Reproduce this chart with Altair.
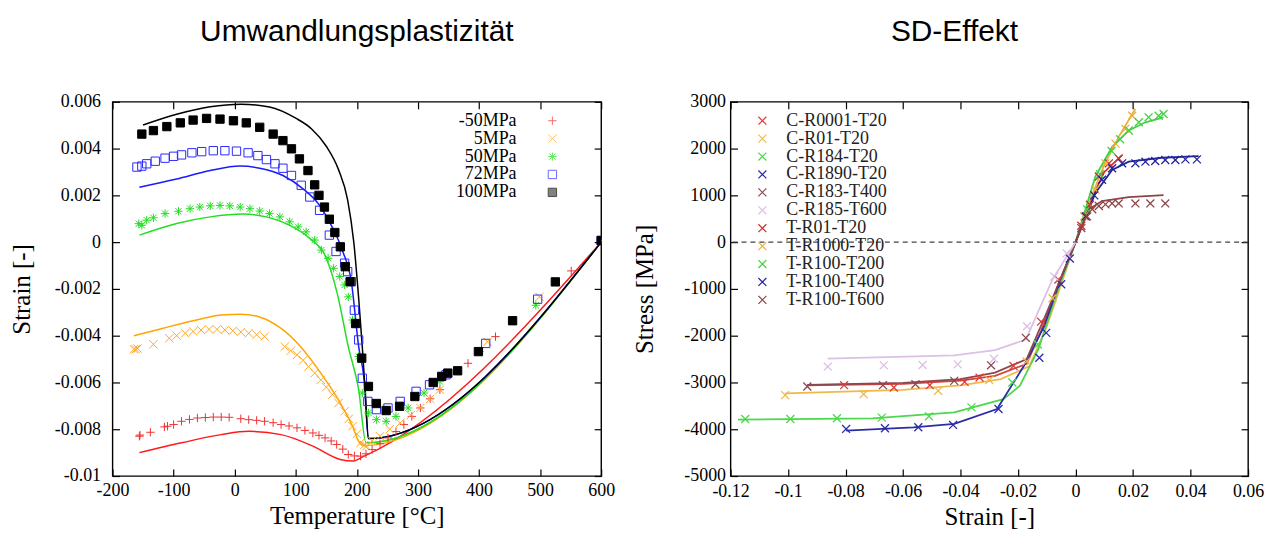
import altair as alt
import pandas as pd

# ---------------- Left panel data: Umwandlungsplastizität ----------------
left_series = ["-50MPa", "5MPa", "50MPa", "72MPa", "100MPa"]
left_colors = ["#f03030", "#ffa726", "#22dd22", "#2a2aff", "#000000"]
left_line_colors = ["#ff1a1a", "#ffa500", "#22dd22", "#1a1aff", "#000000"]

m50_T = [-156, -155, -138, -115, -110, -100, -87, -74, -61, -48, -35, -22, -9, 10, 23, 36, 49, 63, 76, 89,
         102, 115, 128, 138, 148, 158, 167, 177, 186, 196, 206, 215, 225, 238, 251, 264, 277, 290, 304, 320,
         336, 382, 427, 551, 600]
m50_S = [-0.0083, -0.00825, -0.00813, -0.0079, -0.00787, -0.0078, -0.00766, -0.00758, -0.00752, -0.0075,
         -0.00748, -0.00748, -0.00749, -0.00755, -0.00759, -0.00762, -0.00766, -0.00772, -0.0078, -0.00786,
         -0.00794, -0.00805, -0.00816, -0.00826, -0.00837, -0.0085, -0.00865, -0.00885, -0.00908, -0.00914,
         -0.00915, -0.00905, -0.00887, -0.00862, -0.00837, -0.0081, -0.0078, -0.00745, -0.00709, -0.0067,
         -0.00631, -0.00518, -0.00404, -0.00123, 0.00007]
m50_line_T = [-156, -87, -22, 23, 76, 128, 173, 193, 212, 600]
m50_line_S = [-0.009, -0.00858, -0.00823, -0.00809, -0.00823, -0.00872, -0.00929, -0.00936, -0.00915, 0.0]

p5_T = [-165, -162, -159, -133, -107, -95, -81, -68, -55, -42, -29, -16, -3, 10, 23, 36, 49, 82, 92, 102,
        112, 121, 131, 141, 150, 160, 170, 180, 187, 193, 200, 206, 212, 216, 225, 238, 254, 271, 288, 304,
        320, 336, 414, 499, 600]
p5_S = [-0.00458, -0.00458, -0.00455, -0.00437, -0.00411, -0.004, -0.0039, -0.00382, -0.00376, -0.00373,
        -0.00373, -0.00375, -0.00379, -0.00384, -0.0039, -0.00396, -0.00404, -0.00447, -0.00464, -0.00482,
        -0.00505, -0.00532, -0.0056, -0.00589, -0.0062, -0.00652, -0.00688, -0.00723, -0.00755, -0.00787,
        -0.0082, -0.00858, -0.00868, -0.00872, -0.0085, -0.0083, -0.008, -0.00773, -0.0074, -0.00709,
        -0.0067, -0.00631, -0.00426, -0.00234, 0.00007]
p5_line_T = [-165, -120, -87, -50, -22, 10, 43, 76, 108, 141, 173, 193, 205, 210, 600]
p5_line_S = [-0.004, -0.0037, -0.00348, -0.00325, -0.00312, -0.00308, -0.00322, -0.00369, -0.00447,
             -0.0056, -0.00688, -0.00787, -0.0086, -0.0087, 0.0]

p50_T = [-157, -152, -144, -133, -114, -92, -73, -57, -40, -24, -8, 9, 25, 41, 57, 74, 90, 104, 117, 131,
         142, 153, 162, 172, 180, 186, 193, 203, 209, 219, 232, 248, 264, 284, 310, 336, 401, 493, 600]
p50_S = [0.00079, 0.00072, 0.00094, 0.00104, 0.00122, 0.00132, 0.00143, 0.0015, 0.00155, 0.00157, 0.00155,
         0.0015, 0.00143, 0.00133, 0.00122, 0.00108, 0.00087, 0.00065, 0.00044, 0.00009, -0.00034, -0.00069,
         -0.00112, -0.00147, -0.00183, -0.00234, -0.00333, -0.00489, -0.00645, -0.0073, -0.00759, -0.00766,
         -0.00745, -0.00709, -0.00645, -0.00596, -0.00468, -0.0027, 0.00007]
p50_line_T = [-156, -95, -40, 14, 52, 90, 123, 150, 168, 186, 203, 215, 600]
p50_line_S = [0.0003, 0.0008, 0.00108, 0.0012, 0.00108, 0.00072, 0.00016, -0.00069, -0.0022, -0.00447,
              -0.00631, -0.00858, 0.0]

p72_T = [-160, -152, -144, -130, -114, -100, -87, -70, -54, -35, -16, 3, 22, 38, 52, 66, 79, 93, 109, 123,
         139, 155, 166, 180, 185, 191, 196, 203, 209, 218, 232, 251, 271, 297, 319, 346, 411, 496, 600]
p72_S = [0.00321, 0.00325, 0.00335, 0.00346, 0.00359, 0.00367, 0.00373, 0.00382, 0.00387, 0.00391,
         0.00391, 0.00389, 0.00382, 0.0037, 0.00353, 0.00335, 0.00316, 0.00285, 0.00243, 0.00193, 0.00136,
         0.0003, -0.0004, -0.0009, -0.00126, -0.00169, -0.00291, -0.00418, -0.00582, -0.00681, -0.00716,
         -0.00709, -0.00681, -0.00638, -0.0061, -0.00567, -0.00433, -0.00244, 0.00007]
p72_line_T = [-156, -95, -40, 9, 41, 79, 112, 139, 161, 177, 191, 203, 212, 219, 600]
p72_line_S = [0.00235, 0.0027, 0.00306, 0.00325, 0.00316, 0.00285, 0.00228, 0.00157, 0.00058, -0.0004,
              -0.00169, -0.00447, -0.00589, -0.0084, 0.0]

p100_T = [-152, -133, -111, -89, -68, -46, -24, -2, 19, 41, 63, 79, 93, 106, 120, 131, 138, 147, 155, 164,
          173, 181, 189, 198, 208, 219, 232, 248, 270, 295, 325, 339, 349, 365, 399, 455, 525, 600]
p100_S = [0.00462, 0.00477, 0.00494, 0.0051, 0.00522, 0.00529, 0.00526, 0.00519, 0.0051, 0.00491, 0.00462,
          0.00434, 0.00399, 0.00356, 0.00306, 0.00245, 0.002, 0.0015, 0.00098, 0.00041, -0.0002, -0.00105,
          -0.00169, -0.00348, -0.00496, -0.00617, -0.0069, -0.0072, -0.00702, -0.0066, -0.006, -0.00574,
          -0.0056, -0.0055, -0.00468, -0.00336, -0.0017, 0.00007]
p100_line_T = [-150, -95, -40, 10, 57, 100, 126, 150, 170, 185, 195, 203, 209, 214, 219, 600]
p100_line_S = [0.00501, 0.00547, 0.00579, 0.0059, 0.00578, 0.0053, 0.00484, 0.0041, 0.0031, 0.0018, 0.0,
               -0.0024, -0.0045, -0.0065, -0.0084, 0.0]

left_x_ticks = [-200, -100, 0, 100, 200, 300, 400, 500, 600]
left_y_ticks = [-0.01, -0.008, -0.006, -0.004, -0.002, 0, 0.002, 0.004, 0.006]

# ---------------- Right panel data: SD-Effekt ----------------
right_series = ["C-R0001-T20", "C-R01-T20", "C-R184-T20", "C-R1890-T20", "C-R183-T400", "C-R185-T600",
                "T-R01-T20", "T-R1000-T20", "T-R100-T200", "T-R100-T400", "T-R100-T600"]
right_colors = ["#d8403c", "#f0b848", "#4cd84c", "#2c2ca8", "#8c4850", "#dcc0e6",
                "#cc3030", "#e8b040", "#44d044", "#24249c", "#8c4448"]

c1_x = [-0.0805, -0.0632, -0.0507, -0.0386, -0.0334, -0.0216, -0.012, -0.006]
c1_y = [-3058, -3108, -3058, -2988, -2896, -2648, -1700, -800]
c1_lx = [-0.0933, -0.06, -0.04, -0.028, -0.017, -0.012, -0.006, 0.0]
c1_ly = [-3060, -3030, -2960, -2860, -2600, -1900, -900, 0]

c2_x = [-0.101, -0.0737, -0.0478, -0.03, -0.017, -0.008]
c2_y = [-3271, -3250, -3179, -2950, -2550, -1200]
c2_lx = [-0.101, -0.06, -0.04, -0.026, -0.016, -0.01, 0.0]
c2_ly = [-3235, -3160, -3060, -2930, -2650, -1800, 0]

c3_x = [-0.1149, -0.0992, -0.083, -0.0674, -0.051, -0.0362, -0.022, -0.0131]
c3_y = [-3780, -3780, -3766, -3752, -3724, -3533, -3002, -2188]
c3_lx = [-0.1174, -0.0706, -0.0422, -0.0251, -0.0194, -0.013, -0.006, 0.0]
c3_ly = [-3795, -3766, -3639, -3356, -3073, -2300, -1000, 0]

c4_x = [-0.0798, -0.0663, -0.0547, -0.0426, -0.0268, -0.0126, -0.0102, -0.005, -0.002]
c4_y = [-3993, -3979, -3958, -3908, -3568, -2471, -1940, -900, -350]
c4_lx = [-0.0798, -0.0564, -0.0422, -0.0273, -0.018, -0.0109, -0.0053, 0.0]
c4_ly = [-4028, -3958, -3887, -3568, -2648, -1798, -807, 0]

c5_x = [-0.0933, -0.067, -0.0557, -0.0422, -0.0294, -0.0173]
c5_y = [-3087, -3058, -3037, -2966, -2634, -2046]
c5_lx = [-0.0933, -0.06, -0.04, -0.028, -0.017, -0.01, 0.0]
c5_ly = [-3050, -3010, -2930, -2790, -2500, -1500, 0]

c6_x = [-0.0862, -0.0667, -0.0532, -0.041, -0.0284, -0.0169, -0.0074, -0.0031]
c6_y = [-2662, -2634, -2627, -2612, -2492, -1798, -736, -240]
c6_lx = [-0.0862, -0.0422, -0.028, -0.0173, -0.0081, 0.0]
c6_ly = [-2492, -2421, -2308, -2081, -807, 0]

t1_x = [0.002, 0.005, 0.0081, 0.0116, 0.015]
t1_y = [350, 800, 1404, 1685, 1790]
t1_lx = [0.0, 0.005, 0.01, 0.0162]
t1_ly = [0, 850, 1500, 1860]

t2_x = [0.003, 0.0069, 0.0104, 0.0139, 0.0173, 0.0197]
t2_y = [550, 1123, 1685, 2106, 2422, 2703]
t2_lx = [0.0, 0.005, 0.01, 0.015, 0.0208]
t2_ly = [0, 900, 1650, 2250, 2850]

t3_x = [0.004, 0.0085, 0.0125, 0.0155, 0.0185, 0.022, 0.0254, 0.0289, 0.0306]
t3_y = [700, 1450, 1950, 2200, 2387, 2562, 2668, 2703, 2738]
t3_lx = [0.0, 0.0069, 0.0127, 0.0185, 0.0243, 0.0306]
t3_ly = [0, 1404, 2036, 2387, 2562, 2668]

t4_x = [0.0035, 0.0065, 0.0092, 0.0127, 0.0162, 0.0208, 0.0243, 0.0277, 0.0312, 0.0347, 0.0382, 0.0422]
t4_y = [550, 1000, 1334, 1580, 1685, 1685, 1720, 1734, 1755, 1755, 1769, 1769]
t4_lx = [0.0, 0.0069, 0.0127, 0.0185, 0.03, 0.0428]
t4_ly = [0, 1053, 1544, 1720, 1804, 1839]

t5_x = [0.002, 0.004, 0.0058, 0.0081, 0.0104, 0.0127, 0.015, 0.0208, 0.026, 0.0312]
t5_y = [300, 550, 702, 772, 807, 828, 828, 828, 828, 828]
t5_lx = [0.0, 0.0046, 0.0092, 0.0185, 0.0306]
t5_ly = [0, 702, 877, 961, 1004]

right_x_ticks = [-0.12, -0.1, -0.08, -0.06, -0.04, -0.02, 0, 0.02, 0.04, 0.06]
right_y_ticks = [-5000, -4000, -3000, -2000, -1000, 0, 1000, 2000, 3000]
zero_level = [0]

# ---------------- build tables ----------------
def pts(name, xs, ys):
    return pd.DataFrame({"x": xs, "y": ys, "series": name})

left_pts = pd.concat([pts("-50MPa", m50_T, m50_S), pts("5MPa", p5_T, p5_S), pts("50MPa", p50_T, p50_S),
                      pts("72MPa", p72_T, p72_S), pts("100MPa", p100_T, p100_S)])
left_lines = pd.concat([pts("-50MPa", m50_line_T, m50_line_S), pts("5MPa", p5_line_T, p5_line_S),
                        pts("50MPa", p50_line_T, p50_line_S), pts("72MPa", p72_line_T, p72_line_S),
                        pts("100MPa", p100_line_T, p100_line_S)])

right_pts = pd.concat([pts(right_series[0], c1_x, c1_y), pts(right_series[1], c2_x, c2_y),
                       pts(right_series[2], c3_x, c3_y), pts(right_series[3], c4_x, c4_y),
                       pts(right_series[4], c5_x, c5_y), pts(right_series[5], c6_x, c6_y),
                       pts(right_series[6], t1_x, t1_y), pts(right_series[7], t2_x, t2_y),
                       pts(right_series[8], t3_x, t3_y), pts(right_series[9], t4_x, t4_y),
                       pts(right_series[10], t5_x, t5_y)])
right_lines = pd.concat([pts(right_series[0], c1_lx, c1_ly), pts(right_series[1], c2_lx, c2_ly),
                         pts(right_series[2], c3_lx, c3_ly), pts(right_series[3], c4_lx, c4_ly),
                         pts(right_series[4], c5_lx, c5_ly), pts(right_series[5], c6_lx, c6_ly),
                         pts(right_series[6], t1_lx, t1_ly), pts(right_series[7], t2_lx, t2_ly),
                         pts(right_series[8], t3_lx, t3_ly), pts(right_series[9], t4_lx, t4_ly),
                         pts(right_series[10], t5_lx, t5_ly)])

SERIF = "Liberation Serif"
SANS = "Liberation Sans"
PLUS = "M-1,0L1,0M0,-1L0,1"
CROSS = "M-1,-1L1,1M-1,1L1,-1"
STAR = "M-1,0L1,0M0,-1L0,1M-0.75,-0.75L0.75,0.75M-0.75,0.75L0.75,-0.75"
EMPTY = "M0,0"

W1, W2, H = 491, 520, 376
TL = 7
label_expr = "'' + datum.value"

# one shared stroke scale for every line and the right-hand crosses (same explicit domain in both panels)
stroke_scale = alt.Scale(domain=right_series + left_series, range=right_colors + left_line_colors)

right_legend = alt.Legend(title=None, orient="none", legendX=644, legendY=10, labelOffset=15,
                          values=right_series, labelFont=SERIF, labelFontSize=18, rowPadding=0, padding=0,
                          symbolType=CROSS, symbolSize=64, symbolStrokeWidth=1.2, labelColor="#222222")


def main_axis(values, title, lab_pad, title_pad, orient):
    return alt.Axis(values=values, title=title, labelExpr=label_expr, orient=orient, offset=-TL,
                    ticks=True, tickSize=TL, tickColor="black", tickWidth=1.2, labelFlush=False,
                    labelOverlap=False, titleFontSize=25, titlePadding=title_pad, labelPadding=lab_pad)


def mirror_axis(values, orient):
    return alt.Axis(values=values, title=None, labels=False, orient=orient, offset=-TL,
                    ticks=True, tickSize=TL, tickColor="black", tickWidth=1.2)


# ---------------- left chart ----------------
lxs = alt.Scale(domain=[-200, 600], nice=False, zero=False)
lys = alt.Scale(domain=[-0.01, 0.006], nice=False, zero=False)

# symbols-only legend (colour + shape + fill merged), labels hidden
left_sym_legend = alt.Legend(title=None, orient="none", legendX=433, legendY=10,
                             labelFont=SERIF, labelFontSize=18, labelOpacity=0, rowPadding=0, padding=0,
                             symbolSize=70, symbolStrokeWidth=1)
# labels-only legend (opacity channel), right aligned, left of the symbols
left_lab_legend = alt.Legend(title=None, orient="none", legendX=388, legendY=10, values=left_series,
                             labelAlign="right", labelOffset=0, labelFont=SERIF, labelFontSize=18,
                             rowPadding=0, padding=0, symbolSize=70, symbolType=EMPTY,
                             symbolStrokeWidth=0, labelColor="black")

left_line_layer = alt.Chart(left_lines).mark_line(strokeWidth=1.5, interpolate="monotone", clip=True).encode(
    x=alt.X("x:Q", scale=lxs, axis=main_axis(left_x_ticks, "Temperature [°C]", 6, 4, "bottom")),
    y=alt.Y("y:Q", scale=lys, axis=main_axis(left_y_ticks, "Strain [-]", 12, 20, "left")),
    stroke=alt.Stroke("series:N", scale=stroke_scale, legend=right_legend),
)
left_pt_layer = alt.Chart(left_pts).mark_point(filled=False, strokeWidth=1, clip=True).encode(
    x=alt.X("x:Q", scale=lxs, axis=mirror_axis(left_x_ticks, "top")),
    y=alt.Y("y:Q", scale=lys, axis=mirror_axis(left_y_ticks, "right")),
    color=alt.Color("series:N", scale=alt.Scale(domain=left_series, range=left_colors), legend=left_sym_legend),
    shape=alt.Shape("series:N", scale=alt.Scale(domain=left_series, range=[PLUS, CROSS, STAR, "square", "square"]),
                    legend=left_sym_legend),
    fill=alt.Fill("series:N", scale=alt.Scale(domain=left_series,
                                              range=["transparent", "transparent", "transparent", "transparent", "#000000"]),
                  legend=left_sym_legend),
    opacity=alt.Opacity("series:N", scale=alt.Scale(domain=left_series + ["-"], range=[1, 1, 1, 1, 1, 1]),
                        legend=left_lab_legend),
    size=alt.value(70),
)

left_chart = alt.layer(left_line_layer, left_pt_layer).resolve_axis(x="independent", y="independent").properties(
    width=W1, height=H,
    title=alt.TitleParams("Umwandlungsplastizität", font=SANS, fontSize=30, fontWeight="normal",
                          color="black", offset=46, frame="group", anchor="middle"),
)

# ---------------- right chart ----------------
rxs = alt.Scale(domain=[-0.12, 0.06], nice=False, zero=False)
rys = alt.Scale(domain=[-5000, 3000], nice=False, zero=False)

zero_rule = alt.Chart(pd.DataFrame({"y": zero_level})).mark_rule(
    color="#444444", strokeDash=[5, 4], strokeWidth=1.3).encode(
    y=alt.Y("y:Q", scale=rys, axis=main_axis(right_y_ticks, "Stress [MPa]", 5, 26, "left")))

right_line_layer = alt.Chart(right_lines).mark_line(strokeWidth=1.8, clip=True).encode(
    x=alt.X("x:Q", scale=rxs, axis=main_axis(right_x_ticks, "Strain [-]", 7, 4, "bottom")),
    y=alt.Y("y:Q", scale=rys, axis=main_axis(right_y_ticks, "Stress [MPa]", 5, 26, "left")),
    stroke=alt.Stroke("series:N", scale=stroke_scale, legend=right_legend),
)
right_pt_layer = alt.Chart(right_pts).mark_point(shape=CROSS, filled=False, strokeWidth=1.3, size=64,
                                                 opacity=1, clip=True).encode(
    x=alt.X("x:Q", scale=rxs, axis=mirror_axis(right_x_ticks, "top")),
    y=alt.Y("y:Q", scale=rys, axis=mirror_axis(right_y_ticks, "right")),
    stroke=alt.Stroke("series:N", scale=stroke_scale, legend=right_legend),
)

right_chart = alt.layer(alt.layer(zero_rule, right_line_layer), right_pt_layer).resolve_axis(
    x="independent", y="independent").properties(
    width=W2, height=H,
    title=alt.TitleParams("SD-Effekt", font=SANS, fontSize=30, fontWeight="normal",
                          color="black", offset=46, frame="group", anchor="middle", dx=-35),
)

chart = alt.hconcat(left_chart, right_chart, spacing=16).properties(
    padding={"left": 0, "top": 7, "right": 0, "bottom": 0}, background="white"
).configure_view(stroke="black", strokeWidth=1.4).configure_axis(
    grid=False, domain=False, labelFont=SERIF, titleFont=SERIF, labelFontSize=18,
    labelColor="black", titleColor="black", titleFontWeight="normal"
)

chart.save("out.html", embed_options={"renderer": "svg", "actions": False})
